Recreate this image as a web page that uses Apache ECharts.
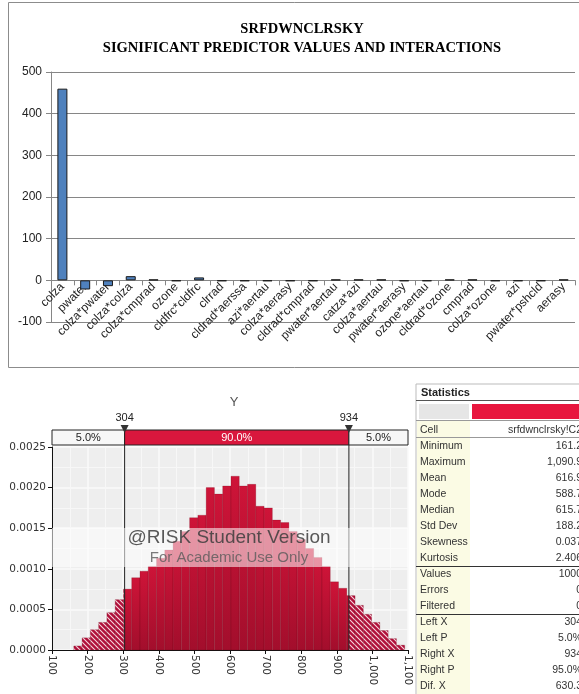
<!DOCTYPE html>
<html>
<head>
<meta charset="utf-8">
<script src="https://cdn.jsdelivr.net/npm/echarts@6/dist/echarts.min.js"></script>
<style>
html, body { margin: 0; padding: 0; background: #fff; }
#main { width: 579px; height: 694px; }
</style>
</head>
<body>
<div id="main"></div>
<script>
// top chart: regression coefficients
var predictors = ['colza', 'pwater', 'colza*pwater', 'colza*colza', 'colza*cmprad', 'ozone',
    'cldfrc*cldfrc', 'clrrad', 'cldrad*aerssa', 'azi*aertau', 'colza*aerasy', 'cldrad*cmprad',
    'pwater*aertau', 'catza*azi', 'colza*aertau', 'pwater*aerasy', 'ozone*aertau', 'cldrad*ozone',
    'cmprad', 'colza*ozone', 'azi', 'pwater*pshcld', 'aerasy'];
var coefficients = [460, -22, -14, 10, 2, -2, 7, -2, -2, -2, -2, -2, 2, 2, 2, -2, -2, 2, 2, -2, -2, -2, 2];
var coefMin = -100, coefMax = 500, coefStep = 100;

// bottom chart: @RISK histogram of Y
var binStart = 161.2;
var binWidth = 23.24;
var density = [0.00005, 0.00015, 0.00025, 0.00034, 0.00046, 0.00062, 0.00075, 0.00089, 0.00097, 0.00103,
    0.00113, 0.00123, 0.00134, 0.00146, 0.00163, 0.00166, 0.00200, 0.00192, 0.00202, 0.00214,
    0.00202, 0.00204, 0.00177, 0.00175, 0.00160, 0.00157, 0.00146, 0.00136, 0.00125, 0.00114,
    0.00103, 0.00084, 0.00076, 0.00067, 0.00055, 0.00044, 0.00034, 0.00024, 0.00014, 0.00006];
var histXMin = 100, histXMax = 1100, histXStep = 100;
var histYMax = 0.0025, histYStep = 0.0005;
var percentileCuts = [304, 934];
var percentileLabels = ['5.0%', '90.0%', '5.0%'];

// statistics panel
var statLabels = ['Cell', 'Minimum', 'Maximum', 'Mean', 'Mode', 'Median', 'Std Dev', 'Skewness', 'Kurtosis',
    'Values', 'Errors', 'Filtered', 'Left X', 'Left P', 'Right X', 'Right P', 'Dif. X'];
var statValues = ['srfdwnclrsky!C2', '161.2', '1,090.9', '616.9', '588.7', '615.7', '188.2', '0.037', '2.406',
    '1000', '0', '0', '304', '5.0%', '934', '95.0%', '630.3'];

var bins = [];
for (var i = 0; i < density.length; i++) {
    bins.push([binStart + i * binWidth, binStart + (i + 1) * binWidth, density[i]]);
}

function makeHatch() {
    var c = document.createElement('canvas');
    c.width = 5; c.height = 5;
    var g = c.getContext('2d');
    g.fillStyle = '#B0103A';
    g.fillRect(0, 0, 5, 5);
    g.strokeStyle = 'rgba(255,235,240,0.9)';
    g.lineWidth = 1.1;
    g.beginPath();
    g.moveTo(-1, -1); g.lineTo(6, 6);
    g.moveTo(-1, 4); g.lineTo(1, 6);
    g.moveTo(4, -1); g.lineTo(6, 1);
    g.stroke();
    return c;
}
var hatchFill = { image: makeHatch(), repeat: 'repeat' };
var solidFill = new echarts.graphic.LinearGradient(0, 0, 0, 1, [
    { offset: 0, color: '#CE1438' },
    { offset: 1, color: '#A20E2C' }
]);

var myChart = echarts.init(document.getElementById('main'));

var panelX = 416, rowTop = 430, rowH = 16;
var panelFont = '10.5px "Liberation Sans"';
var panel = [
    { type: 'rect', shape: { x: panelX, y: 384, width: 170, height: 320 }, style: { fill: '#fff', stroke: '#bbb', lineWidth: 1 } },
    { type: 'rect', shape: { x: panelX + 1, y: 421, width: 53, height: 280 }, style: { fill: '#FBFBE4' } },
    { type: 'line', shape: { x1: panelX, y1: 400.5, x2: 579, y2: 400.5 }, style: { stroke: '#555', lineWidth: 1 } },
    { type: 'rect', shape: { x: panelX + 3, y: 404, width: 50, height: 15 }, style: { fill: '#E6E6E6' } },
    { type: 'rect', shape: { x: 472, y: 404, width: 110, height: 15 }, style: { fill: '#E8163E' } },
    { type: 'line', shape: { x1: panelX, y1: 420.5, x2: 579, y2: 420.5 }, style: { stroke: '#999', lineWidth: 1 } },
    { type: 'line', shape: { x1: panelX, y1: 437.5, x2: 579, y2: 437.5 }, style: { stroke: '#999', lineWidth: 1 } },
    { type: 'line', shape: { x1: panelX, y1: 566.5, x2: 579, y2: 566.5 }, style: { stroke: '#333', lineWidth: 1 } },
    { type: 'line', shape: { x1: panelX, y1: 614.5, x2: 579, y2: 614.5 }, style: { stroke: '#333', lineWidth: 1 } },
    { type: 'text', x: panelX + 5, y: 393, style: { text: 'Statistics', fill: '#222', font: 'bold 11px "Liberation Sans"', textVerticalAlign: 'middle' } }
];
statLabels.forEach(function (lab, k) {
    panel.push({ type: 'text', x: panelX + 4, y: rowTop + k * rowH,
        style: { text: lab, fill: '#333', font: panelFont, textVerticalAlign: 'middle' } });
    panel.push({ type: 'text', x: 582, y: rowTop + k * rowH,
        style: { text: statValues[k], fill: '#333', font: panelFont, textAlign: 'right', textVerticalAlign: 'middle' } });
});

var option = {
    animation: false,
    title: [{
        text: 'SRFDWNCLRSKY\nSIGNIFICANT PREDICTOR VALUES AND INTERACTIONS',
        left: 297,
        top: 15,
        textAlign: 'center',
        textStyle: { fontFamily: 'Liberation Serif', fontWeight: 'bold', fontSize: 14.5, color: '#000', lineHeight: 19 }
    }, {
        text: 'Y',
        left: 229,
        top: 391,
        textAlign: 'center',
        textStyle: { fontFamily: 'Liberation Sans', fontWeight: 'normal', fontSize: 13, color: '#555' }
    }],
    grid: [
        { left: 51, right: 4, top: 72, bottom: 372 },
        { left: 52, right: 171, top: 447, bottom: 44, show: true, backgroundColor: '#EEEEEE', borderWidth: 0 }
    ],
    xAxis: [{
        gridIndex: 0,
        type: 'category',
        data: predictors,
        axisLine: { onZero: true, lineStyle: { color: '#868686', width: 1 } },
        axisTick: { show: true, length: 5, lineStyle: { color: '#868686' } },
        axisLabel: { interval: 0, rotate: 45, margin: -37, fontFamily: 'Liberation Sans', fontSize: 12, color: '#222' },
        splitLine: { show: false }
    }, {
        gridIndex: 1,
        type: 'value',
        min: histXMin,
        max: histXMax,
        interval: histXStep,
        axisLine: { onZero: false, lineStyle: { color: '#111', width: 1 } },
        axisTick: { show: true, length: 4, lineStyle: { color: '#111' } },
        axisLabel: {
            rotate: -90, margin: 5, fontFamily: 'DejaVu Sans', fontSize: 10.5, color: '#333',
            formatter: function (v) { return v.toLocaleString('en-US'); }
        },
        splitLine: { show: true, lineStyle: { color: '#FAFAFA', width: 1.5 } },
        minorTick: { show: false, splitNumber: 2 },
        minorSplitLine: { show: true, lineStyle: { color: '#F7F7F7', width: 1 } }
    }],
    yAxis: [{
        gridIndex: 0,
        type: 'value',
        min: coefMin,
        max: coefMax,
        interval: coefStep,
        axisLine: { show: true, lineStyle: { color: '#868686' } },
        axisTick: { show: true, length: 5, lineStyle: { color: '#868686' } },
        axisLabel: { margin: 9, fontFamily: 'Liberation Sans', fontSize: 12, color: '#222' },
        splitLine: { lineStyle: { color: '#868686', width: 1 } }
    }, {
        gridIndex: 1,
        type: 'value',
        min: 0,
        max: histYMax,
        interval: histYStep,
        axisLine: { show: true, lineStyle: { color: '#111' } },
        axisTick: { show: true, length: 4, lineStyle: { color: '#111' } },
        axisLabel: {
            margin: 6, fontFamily: 'DejaVu Sans', fontSize: 10.5, color: '#333',
            formatter: function (v) { return v.toFixed(4); }
        },
        splitLine: { lineStyle: { color: '#FAFAFA', width: 1.5 } },
        minorTick: { show: false, splitNumber: 2 },
        minorSplitLine: { show: true, lineStyle: { color: '#F7F7F7', width: 1 } }
    }],
    series: [{
        type: 'bar',
        xAxisIndex: 0,
        yAxisIndex: 0,
        data: coefficients,
        barWidth: 10,
        itemStyle: { color: '#4F81BD', borderColor: '#1a1a1a', borderWidth: 1 }
    }, {
        type: 'custom',
        xAxisIndex: 1,
        yAxisIndex: 1,
        data: bins,
        z: 2,
        renderItem: function (params, api) {
            var x0 = api.value(0), x1 = api.value(1), h = api.value(2);
            var pieces = [
                [x0, Math.min(x1, percentileCuts[0]), true],
                [Math.max(x0, percentileCuts[0]), Math.min(x1, percentileCuts[1]), false],
                [Math.max(x0, percentileCuts[1]), x1, true]
            ];
            var kids = [];
            pieces.forEach(function (p) {
                if (p[1] <= p[0]) return;
                var a = api.coord([p[0], h]), b = api.coord([p[1], 0]);
                kids.push({
                    type: 'rect',
                    shape: { x: a[0], y: a[1], width: b[0] - a[0], height: b[1] - a[1] },
                    style: { fill: p[2] ? hatchFill : solidFill, stroke: 'rgba(100,0,20,0.35)', lineWidth: 0.6 }
                });
            });
            return { type: 'group', children: kids };
        }
    }, {
        type: 'custom',
        xAxisIndex: 1,
        yAxisIndex: 1,
        data: [percentileCuts],
        z: 4,
        clip: false,
        renderItem: function (params, api) {
            var tl = api.coord([histXMin, histYMax]), br = api.coord([histXMax, 0]);
            var c1 = api.coord([api.value(0), 0])[0], c2 = api.coord([api.value(1), 0])[0];
            var top = tl[1] - 17, hgt = 15;
            var font = '11px "Liberation Sans"';
            var kids = [
                { type: 'rect', shape: { x: tl[0], y: top, width: c1 - tl[0], height: hgt }, style: { fill: '#F7F7F7', stroke: '#222', lineWidth: 1 } },
                { type: 'rect', shape: { x: c1, y: top, width: c2 - c1, height: hgt }, style: { fill: '#D9173D', stroke: '#222', lineWidth: 1 } },
                { type: 'rect', shape: { x: c2, y: top, width: br[0] - c2, height: hgt }, style: { fill: '#F7F7F7', stroke: '#222', lineWidth: 1 } },
                { type: 'text', x: (tl[0] + c1) / 2, y: top + hgt / 2, style: { text: percentileLabels[0], fill: '#222', font: font, textAlign: 'center', textVerticalAlign: 'middle' } },
                { type: 'text', x: (c1 + c2) / 2, y: top + hgt / 2, style: { text: percentileLabels[1], fill: '#fff', font: font, textAlign: 'center', textVerticalAlign: 'middle' } },
                { type: 'text', x: (c2 + br[0]) / 2, y: top + hgt / 2, style: { text: percentileLabels[2], fill: '#222', font: font, textAlign: 'center', textVerticalAlign: 'middle' } }
            ];
            [c1, c2].forEach(function (cx, k) {
                kids.push({ type: 'line', shape: { x1: cx, y1: top + hgt, x2: cx, y2: br[1] }, style: { stroke: '#222', lineWidth: 1 } });
                kids.push({ type: 'polygon', shape: { points: [[cx - 4, top - 5], [cx + 4, top - 5], [cx, top + 3]] }, style: { fill: '#333' } });
                kids.push({ type: 'text', x: cx, y: top - 12, style: { text: String(percentileCuts[k]), fill: '#222', font: font, textAlign: 'center', textVerticalAlign: 'middle' } });
            });
            return { type: 'group', children: kids };
        }
    }],
    graphic: [{
        type: 'rect',
        z: 100,
        shape: { x: 8.5, y: 2.5, width: 580, height: 365 },
        style: { fill: 'none', stroke: '#8c8c8c', lineWidth: 1 }
    }, {
        type: 'rect',
        z: 100,
        shape: { x: 52, y: 528, width: 356, height: 39 },
        style: { fill: 'rgba(255,255,255,0.55)' }
    }, {
        type: 'text',
        z: 101,
        x: 229, y: 538,
        style: { text: '@RISK Student Version', fill: 'rgba(60,60,60,0.85)', font: '19px "Liberation Sans"', textAlign: 'center', textVerticalAlign: 'middle' }
    }, {
        type: 'text',
        z: 101,
        x: 229, y: 558,
        style: { text: 'For Academic Use Only', fill: 'rgba(90,90,90,0.8)', font: '15px "Liberation Sans"', textAlign: 'center', textVerticalAlign: 'middle' }
    }, {
        type: 'group',
        z: 100,
        children: panel
    }]
};

myChart.setOption(option);
window.addEventListener('resize', function () {
    myChart.resize();
});
</script>
</body>
</html>
